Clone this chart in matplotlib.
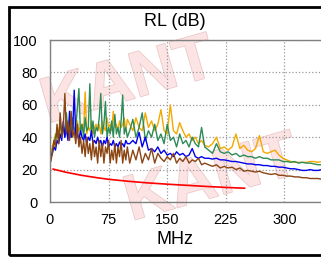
import matplotlib
matplotlib.use('Agg')
import matplotlib.pyplot as plt
import matplotlib.patheffects as pe
from matplotlib.patches import Rectangle

plt.rcParams['font.family'] = ['Liberation Sans', 'DejaVu Sans']

# frequency points (MHz)
freq = [1, 3, 5, 7, 9, 11, 13, 15, 17, 19,
        21, 23, 25, 27, 29, 31, 33, 35, 37, 39,
        41, 43, 45, 47, 49, 51, 53, 55, 57, 59,
        61, 63, 65, 67, 69, 71, 73, 75, 77, 79,
        81, 83, 85, 87, 89, 91, 93, 95, 97, 99,
        102, 106, 110, 114, 118, 122, 126, 130, 134, 138,
        142, 146, 150, 154, 158, 162, 166, 170, 174, 178,
        182, 186, 190, 194, 198,
        203, 208, 213, 218, 223, 228, 233, 238, 243, 248,
        253, 258, 263, 268, 273, 278, 283, 288, 293, 298,
        303, 308, 313, 318, 323, 328, 333, 338, 343, 348]

green = [26, 32, 36, 40, 44, 38, 50, 42, 46, 40,
         55, 42, 48, 40, 52, 44, 46, 58, 70, 42,
         48, 40, 52, 44, 46, 73, 42, 50, 40, 46,
         44, 52, 67, 42, 48, 62, 40, 46, 42, 50,
         40, 54, 42, 46, 40, 50, 66, 42, 46, 40,
         44, 51, 40, 46, 55, 38, 44, 40, 48, 38,
         42, 36, 48, 38, 40, 34, 42, 36, 38, 34,
         40, 36, 34, 46, 34,
         32, 30, 36, 31, 30, 31, 29, 30, 28, 29,
         28, 28, 27, 28, 27, 27, 26, 26, 26, 25,
         25, 24.5, 25, 24, 24.5, 24, 24, 23.5, 23, 23]

orange = [30, 34, 38, 42, 40, 44, 48, 42, 46, 44,
          50, 44, 42, 48, 44, 46, 42, 50, 44, 46,
          48, 44, 68, 42, 46, 44, 50, 42, 46, 48,
          44, 48, 42, 50, 46, 44, 52, 46, 48, 44,
          56, 46, 48, 44, 50, 46, 48, 52, 44, 51,
          48, 44, 52, 46, 44, 55, 46, 50, 44, 48,
          57, 44, 42, 60, 44, 42, 49, 44, 40, 42,
          38, 40, 36, 38, 35,
          34, 36, 40, 33, 34, 32, 34, 42, 33, 35,
          32, 31, 33, 41, 31, 30, 31, 32, 29, 27,
          26, 25, 24.5, 24.5, 24.5, 24.5, 25, 25, 24.5, 25]

blue = [28, 30, 34, 32, 38, 36, 42, 38, 50, 40,
        46, 38, 56, 40, 44, 69, 40, 42, 38, 44,
        40, 38, 42, 36, 40, 38, 44, 36, 38, 36,
        40, 36, 38, 34, 38, 36, 40, 34, 36, 35,
        38, 34, 36, 34, 37, 35, 36, 34, 38, 36,
        36, 38, 36, 43, 34, 40, 32, 33, 31, 34,
        30, 32, 29, 30, 28, 31, 29, 30, 28, 29,
        33, 28, 27, 28, 27,
        27, 26.5, 27, 26, 26, 25.5, 25, 25, 24.5, 24,
        23.5, 23.5, 23, 23, 22.5, 22.5, 22, 22, 21.5, 21.5,
        21, 20.5, 20.5, 20, 19.5, 19.5, 20, 19.5, 19.5, 20]

brown = [25, 30, 38, 34, 48, 36, 55, 40, 46, 67,
         42, 50, 38, 56, 40, 44, 36, 48, 34, 40,
         30, 38, 28, 40, 30, 36, 26, 38, 28, 34,
         24, 38, 28, 36, 24, 34, 30, 38, 24, 32,
         26, 36, 24, 34, 28, 38, 24, 32, 26, 34,
         24, 32, 26, 34, 24, 30, 26, 33, 24, 30,
         27, 25, 28, 26, 30, 24, 27, 25, 28, 24,
         26, 25, 27, 23, 24,
         23, 22, 23, 21, 22, 21, 21.5, 20, 21, 19,
         19.5, 19, 18.5, 19, 18, 17.5, 17, 17.5, 16.5, 16.5,
         16, 16, 15.5, 15.5, 15, 15, 14.5, 14.5, 14.5, 14]

# limit line
limit_freq = [4, 10, 20, 40, 60, 75, 100, 125, 150, 175, 200, 225, 249]
limit = [20.3, 19.6, 18.4, 16.5, 15.0, 14.0, 12.8, 11.8, 11.0, 10.3, 9.6, 9.0, 8.5]

x_ticks = [0, 75, 150, 225, 300]
y_ticks = [0, 20, 40, 60, 80, 100]

W, H = 321, 257
fig = plt.figure(figsize=(W / 100, H / 100), dpi=100)

# faint watermark behind the plot
for x, y in [(0.40, 0.68), (0.66, 0.30)]:
    fig.text(x, y, 'KANT', fontsize=46, fontweight='bold', color='#fce4e4',
             rotation=16, ha='center', va='center', zorder=-1,
             path_effects=[pe.withStroke(linewidth=1.2, foreground='#ecc8c8')])

ax = fig.add_axes([50 / W, 55 / H, 293 / W, 162 / H])
ax.set_facecolor('none')

ax.plot(freq, orange, color='#f2a900', lw=1)
ax.plot(freq, green, color='#2e8b57', lw=1)
ax.plot(freq, blue, color='#0000ee', lw=1)
ax.plot(freq, brown, color='#8b4513', lw=1)
ax.plot(limit_freq, limit, color='#ff0000', lw=1.2)

ax.set_xlim(0, 375)
ax.set_ylim(0, 100)
ax.set_xticks(x_ticks)
ax.set_yticks(y_ticks)
ax.tick_params(length=0, labelsize=10.5)
ax.tick_params(axis='x', pad=8)
ax.tick_params(axis='y', pad=9)
ax.grid(True, color='#999999', linestyle=':', linewidth=0.9)
for s in ['left', 'top', 'bottom']:
    ax.spines[s].set_color('#808080')
    ax.spines[s].set_linewidth(1)
ax.spines['right'].set_visible(False)

fig.text(175 / W, 1 - 21 / H, 'RL (dB)', fontsize=13, ha='center', va='center')
fig.text(175 / W, 1 - 240 / H, 'MHz', fontsize=13, ha='center', va='center')

# outer frame
fig.patches.append(Rectangle((8.5 / W, 2.5 / H), 2.0, 1 - 9 / H,
                             transform=fig.transFigure, fill=False,
                             edgecolor='black', linewidth=2))

fig.savefig('out.png', dpi=100)
